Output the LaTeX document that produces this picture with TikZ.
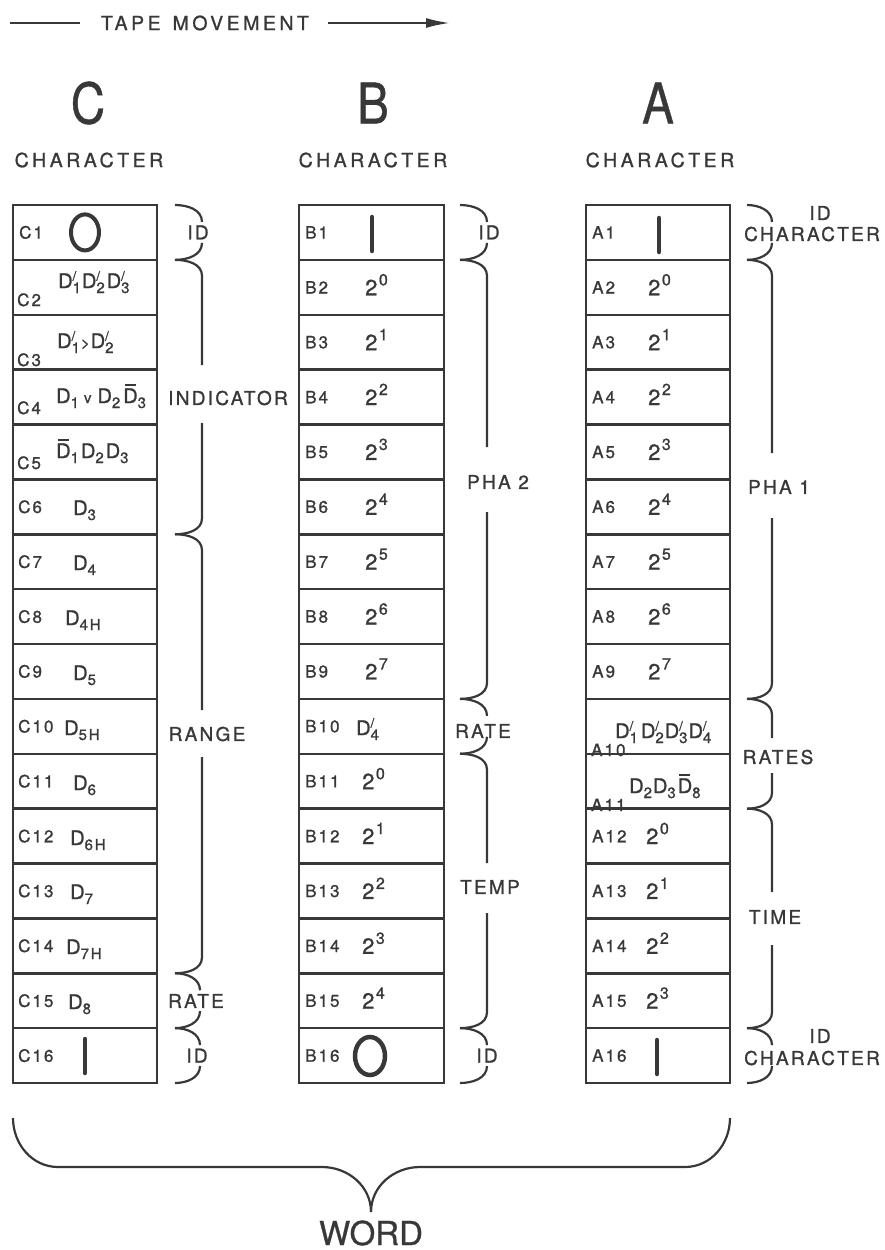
\documentclass[tikz,border=0pt]{standalone}
\usepackage{fontspec}
\setmainfont{TeX Gyre Heros}
\newfontfamily\lettering[LetterSpace=12,FakeBold=1.1]{TeX Gyre Heros}
\newfontfamily\widelettering[LetterSpace=18,FakeBold=1.1]{TeX Gyre Heros}
\newfontfamily\plainlettering[FakeBold=0.8]{TeX Gyre Heros}
\usetikzlibrary{arrows.meta}
\definecolor{ink}{HTML}{383838}
\newcommand\lblfont{\lettering\fontsize{17}{17}\selectfont}
\newcommand\tagfont{\lettering\fontsize{19}{19}\selectfont}
\newcommand\widefont{\widelettering\fontsize{19.5}{19.5}\selectfont}
\newcommand\valfont{\lettering\fontsize{20}{20}\selectfont}
\newcommand\twofont{\lettering\fontsize{22}{22}\selectfont}
\newcommand\subfnt{\fontsize{15}{15}\selectfont}
\newcommand\supfnt{\fontsize{16}{16}\selectfont}
\newcommand\prfnt{\fontsize{13}{13}\selectfont}
\newcommand\Ds[1]{D\raisebox{-5pt}{\subfnt #1}}
\newcommand\Dp[1]{D\rlap{\raisebox{7.5pt}{\prfnt /}}\raisebox{-5pt}{\subfnt #1}}
\newcommand\Db[1]{\rlap{\hspace{1.5pt}\raisebox{17pt}{\rule{11pt}{1.7pt}}}D\raisebox{-5pt}{\subfnt #1}}
\newcommand\pw[1]{2\hspace{1.5pt}\raisebox{10pt}{\supfnt #1}}
\tikzset{
  cell/.style={draw=ink, line width=2.5pt, minimum width=144pt, minimum height=54.875pt, inner sep=0pt},
  lbl/.style={text=ink, font=\lblfont, inner sep=0pt},
  val/.style={text=ink, font=\valfont, inner sep=0pt, anchor=base west},
  two/.style={text=ink, font=\twofont, inner sep=0pt, anchor=base west},
  tag/.style={text=ink, font=\tagfont, inner sep=0pt},
  widetag/.style={text=ink, font=\widefont, inner sep=0pt},
  big/.style={text=ink, font=\plainlettering\fontsize{56}{56}\selectfont, inner sep=0pt},
  brace/.style={draw=ink, line width=2.2pt},
  wire/.style={draw=ink, line width=2.2pt},
  glyph/.style={draw=ink, line width=4.5pt, line cap=round}
}
\newcommand\bracelong[6]{%
  \draw[brace] (#1,#3) to[out=0,in=90] (#2,#3+16) -- (#2,#5);
  \draw[brace] (#2,#6) -- (#2,#4-16) to[out=-90,in=0] (#1,#4);}
\newcommand\braceshort[4]{%
  \draw[brace] (#1,#3) to[out=0,in=90] (#2,#3+17);
  \draw[brace] (#2,#4-17) to[out=-90,in=0] (#1,#4);}
\begin{document}
\begin{tikzpicture}[x=1pt,y=-1pt]
\useasboundingbox (0,0) rectangle (884,1250);
\def\rh{54.875}
% tape movement
\node[widetag] (tape) at (205,23) {TAPE\hspace{12pt}MOVEMENT};
\coordinate (tapeL) at (10,23);
\coordinate (tapeLe) at (80,23);
\coordinate (tapeR) at (328,23);
\coordinate (tapeRe) at (450,23);
\draw[wire] (tapeL) -- (tapeLe);
\draw[wire, -{Latex[length=24pt,width=10pt]}] (tapeR) -- (tapeRe);
% headers
\node[big] (hC) at (88,103) {\scalebox{0.85}[1]{C}};
\node[big] (hB) at (373,103) {\scalebox{0.85}[1]{B}};
\node[big] (hA) at (658,103) {\scalebox{0.85}[1]{A}};
\node[widetag] (chC) at (89,160) {CHARACTER};
\node[widetag] (chB) at (373,160) {CHARACTER};
\node[widetag] (chA) at (660,160) {CHARACTER};
% cells
\foreach \i in {1,...,16} {
  \node[cell] (C\i) at (85,{205+(\i-0.5)*\rh}) {};
  \node[cell, minimum width=145pt] (B\i) at (371.5,{205+(\i-0.5)*\rh}) {};
  \node[cell] (A\i) at (658,{205+(\i-0.5)*\rh}) {};
}
% ---------- column C
\node[lbl,anchor=west] (C1l) at (19,232.4) {C1};
\draw[ink, line width=4pt] (85,232.4) ellipse [x radius=14pt, y radius=18pt];
\node[lbl,anchor=base west] (C2l) at (17,306) {C2};
\node[val] (C2v) at (58,288) {\Dp1\hspace{1pt}\Dp2\hspace{2pt}\Dp3};
\node[lbl,anchor=base west] (C3l) at (17,366) {C3};
\node[val] (C3v) at (57,348) {\Dp1\hspace{1pt}{\subfnt >}\hspace{1pt}\Dp2};
\node[lbl,anchor=base west] (C4l) at (17,414) {C4};
\node[val] (C4v) at (56,403) {\Ds1\hspace{5pt}{\subfnt v}\hspace{6pt}\Ds2\hspace{3pt}\Db3};
\node[lbl,anchor=base west] (C5l) at (17,469) {C5};
\node[val] (C5v) at (56,458) {\Db1\hspace{2pt}\Ds2\hspace{2pt}\Ds3};
\node[lbl,anchor=west] (C6l) at (18,506.8) {C6};
\node[val] (C6v) at (73,515) {\Ds3};
\node[lbl,anchor=west] (C7l) at (18,561.7) {C7};
\node[val] (C7v) at (73,570) {\Ds4};
\node[lbl,anchor=west] (C8l) at (18,616.6) {C8};
\node[val] (C8v) at (65,625) {\Ds{4H}};
\node[lbl,anchor=west] (C9l) at (18,671.4) {C9};
\node[val] (C9v) at (73,680) {\Ds5};
\node[lbl,anchor=west] (C10l) at (18,726.3) {C10};
\node[val] (C10v) at (64,735) {\Ds{5H}};
\node[lbl,anchor=west] (C11l) at (18,781.2) {C11};
\node[val] (C11v) at (73,790) {\Ds6};
\node[lbl,anchor=west] (C12l) at (18,836.1) {C12};
\node[val] (C12v) at (70,845) {\Ds{6H}};
\node[lbl,anchor=west] (C13l) at (18,890.9) {C13};
\node[val] (C13v) at (70,899) {\Ds7};
\node[lbl,anchor=west] (C14l) at (18,945.8) {C14};
\node[val] (C14v) at (66,954) {\Ds{7H}};
\node[lbl,anchor=west] (C15l) at (18,1000.7) {C15};
\node[val] (C15v) at (68,1009) {\Ds8};
\node[lbl,anchor=west] (C16l) at (18,1055.6) {C16};
\draw[glyph] (85,1039) -- (85,1073);
% ---------- column B
\node[lbl,anchor=west] (B1l) at (305,232.4) {B1};
\draw[glyph] (372,217) -- (372,251);
\foreach \i/\e in {2/0,3/1,4/2,5/3,6/4,7/5,8/6,9/7} {
  \node[lbl,anchor=west] (B\i l) at (305,{205+(\i-0.5)*\rh}) {B\i};
  \node[two] (B\i v) at (365,{205+(\i-0.5)*\rh+8}) {\pw{\e}};
}
\node[lbl,anchor=west] (B10l) at (305,726.3) {B10};
\node[val] (B10v) at (356,735) {\Dp4};
\foreach \i/\e in {11/0,12/1,13/2,14/3,15/4} {
  \node[lbl,anchor=west] (B\i l) at (305,{205+(\i-0.5)*\rh}) {B\i};
  \node[two] (B\i v) at (362,{205+(\i-0.5)*\rh+8}) {\pw{\e}};
}
\node[lbl,anchor=west] (B16l) at (305,1055.6) {B16};
\draw[ink, line width=4.5pt] (370,1056) ellipse [x radius=15pt, y radius=19pt];
% ---------- column A
\node[lbl,anchor=west] (A1l) at (592,232.4) {A1};
\draw[glyph] (659,218) -- (659,252);
\foreach \i/\e in {2/0,3/1,4/2,5/3,6/4,7/5,8/6,9/7} {
  \node[lbl,anchor=west] (A\i l) at (592,{205+(\i-0.5)*\rh}) {A\i};
  \node[two] (A\i v) at (648,{205+(\i-0.5)*\rh+8}) {\pw{\e}};
}
\node[lbl,anchor=base west] (A10l) at (591,756) {A10};
\node[val] (A10v) at (615,738) {\Dp1\hspace{3pt}\Dp2\hspace{1pt}\Dp3\hspace{1pt}\Dp4};
\node[lbl,anchor=base west] (A11l) at (591,811) {A11};
\node[val] (A11v) at (629,793) {\Ds2\hspace{1pt}\Ds3\hspace{2pt}\Db8};
\foreach \i/\e in {12/0,13/1,14/2,15/3} {
  \node[lbl,anchor=west] (A\i l) at (592,{205+(\i-0.5)*\rh}) {A\i};
  \node[two] (A\i v) at (646,{205+(\i-0.5)*\rh+8}) {\pw{\e}};
}
\node[lbl,anchor=west] (A16l) at (592,1055.6) {A16};
\draw[glyph] (657,1040) -- (657,1074);
% ---------- braces column C
\braceshort{175}{202}{205}{259.875}
\node[tag] (tC1) at (198,232.4) {ID};
\bracelong{175}{202}{259.875}{534.25}{365}{423}
\node[tag] (tC2) at (228,398) {INDICATOR};
\bracelong{175}{202}{534.25}{973.25}{710}{757}
\node[tag] (tC3) at (207,734) {RANGE};
\braceshort{175}{200}{973.25}{1028.125}
\node[tag] (tC4) at (196,1001) {RATE};
\braceshort{175}{200}{1028.125}{1083}
\node[tag] (tC5) at (197,1055.6) {ID};
% ---------- braces column B
\braceshort{460}{487}{205}{259.875}
\node[tag] (tB1) at (489,232.4) {ID};
\bracelong{460}{487}{259.875}{698.875}{447}{512}
\node[tag] (tB2) at (498,482) {PHA 2};
\braceshort{460}{487}{698.875}{753.75}
\node[tag] (tB3) at (483,731) {RATE};
\bracelong{460}{487}{753.75}{1028.125}{863}{913}
\node[tag] (tB4) at (490,887) {TEMP};
\braceshort{460}{487}{1028.125}{1083}
\node[tag] (tB5) at (487,1055.6) {ID};
% ---------- braces column A
\braceshort{747}{772}{205}{259.875}
\node[tag] (tA1a) at (820,213) {ID};
\node[tag] (tA1b) at (812,234) {CHARACTER};
\bracelong{747}{772}{259.875}{698.875}{453}{518}
\node[tag] (tA2) at (779,487) {PHA 1};
\bracelong{747}{772}{698.875}{808.625}{738}{773}
\node[tag] (tA3) at (778,757) {RATES};
\bracelong{747}{772}{808.625}{1028.125}{892}{945}
\node[tag] (tA4) at (775,917) {TIME};
\braceshort{747}{772}{1028.125}{1083}
\node[tag] (tA5a) at (820,1036) {ID};
\node[tag] (tA5b) at (812,1058) {CHARACTER};
% ---------- word brace
\coordinate (wl) at (13,1118);
\coordinate (wr) at (730,1118);
\coordinate (wtip) at (371,1212);
\draw[brace] (wl) to[out=-90,in=180] (58,1167) -- (322,1167) to[out=0,in=90] (wtip);
\draw[brace] (wtip) to[out=90,in=180] (420,1167) -- (685,1167) to[out=0,in=-90] (wr);
\node[text=ink, font=\plainlettering\fontsize{33}{33}\selectfont, inner sep=0pt] (word) at (371,1233) {WORD};
\end{tikzpicture}
\end{document}
